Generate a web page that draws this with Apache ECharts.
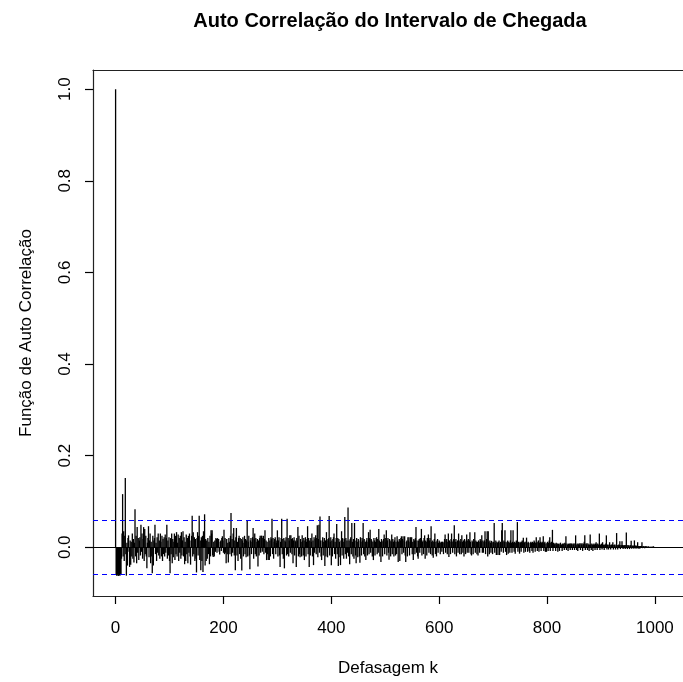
<!DOCTYPE html>
<html>
<head>
<meta charset="utf-8">
<script src="https://cdn.jsdelivr.net/npm/echarts@6/dist/echarts.min.js"></script>
<style>
  html, body { margin: 0; padding: 0; background: #fff; }
  #chart { width: 683px; height: 682px; }
</style>
</head>
<body>
<div id="chart"></div>
<script>
// Sample autocorrelation of the inter-arrival times, lags 0..999, in thousandths
const acfThousandths = [
  1000,
  -60, -62, -58, -61, -63, -59, -61, -62, -58, -60,
  -25, 30, 116, -20, 35, -30, 25, 151, -15, -62,
  10, -40, 20, 26, -10, -43, 15, -38, 12, -20,
  30, -25, 18, -33, 10, 83, -20, 25, -35, 44,
  -12, 20, -28, 15, 22, -18, 49, -10, 30, -25,
  18, 44, -30, 40, -15, 25, -20, -46, 10, 20,
  46, -22, 15, 30, -35, 12, -20, -57, 25, -40,
  15, 20, 49, -15, 10, -30, 22, -12, 30, -18,
  15, -25, 30, 12, -20, 25, -30, 18, -15, 22,
  -20, 28, -12, 20, 49, -25, 15, -18, 22, -30,
  -57, 20, -15, 30, -35, 18, -22, 12, 30, -28,
  25, -15, 33, -20, 10, 28, -30, 20, -12, 25,
  -25, 33, -18, 15, 35, -20, 22, -37, 12, -30,
  28, -15, 20, -35, 25, -12, 30, -20, -38, 15,
  25, 69, -20, 33, -15, 22, -30, 18, -25, -55,
  20, 33, -18, 25, 69, -28, 15, -50, 22, -30,
  25, -54, 35, 20, 72, -40, 18, -30, 15, -25,
  20, -15, 12, -37, 25, -20, 37, 30, 37, -18,
  -21, 12, -20, 15, -10, 20, 18, -12, 20, 15,
  18, -10, -16, 12, 15, -8, 20, 24, 15, -12,
  38, -15, 20, -12, -35, 18, -15, 10, -33, 20,
  12, -15, 25, 75, -20, 18, -12, 30, 42, -18,
  15, -50, 22, 42, -18, 12, -30, 20, 25, -15,
  20, -25, 18, -51, 15, 22, -20, 10, 25, -15,
  18, -22, 15, 59, -20, 12, 25, -18, -48, 15,
  20, -15, 12, 22, 42, -25, 18, 30, -15, 20,
  -20, 12, 18, -42, 15, -18, 20, 25, -12, 25,
  25, -10, 20, 25, -15, 18, 37, -12, 15, -28,
  12, -15, -28, 20, -28, 15, -20, 22, 18, 62,
  -15, 20, -25, 12, 18, 22, -15, 10, 15, 37,
  -20, 15, 22, -18, -43, 12, 20, 62, -15, 18,
  -25, 20, -46, 15, 12, 22, -18, 62, -15, 20,
  -20, 15, 26, -12, 26, 18, -15, 20, -35, 15,
  22, -18, 15, 12, -43, 20, 15, 44, -20, 25,
  -15, -22, 18, 12, -20, 26, 15, -18, 20, -28,
  15, 22, -20, 12, 18, 46, -15, 20, -43, 15,
  -18, 20, 12, 30, -20, 15, -39, 22, -12, 18,
  26, -15, 20, 48, -22, 18, 49, -12, 67, 15,
  -20, -28, 15, 22, -18, 12, 20, -41, 15, -20,
  33, 18, -22, 15, 20, 68, -18, 12, 22, -39,
  15, -20, 18, 22, 30, -15, 12, -25, 20, 51,
  -15, 20, -41, 18, 12, -22, -39, 15, 35, -18,
  20, 12, -25, 18, 66, -15, 20, -25, 15, -12,
  87, -20, 15, -37, 18, 22, -15, 53, 12, -20,
  18, -25, 53, 15, -18, -35, 20, 12, -22, 18,
  15, -20, -34, 22, 12, -18, 20, 15, 53, -15,
  18, -20, 12, -28, 15, 20, -18, 12, 33, -15,
  20, 38, -12, 18, 15, -20, 12, -28, 20, 15,
  -18, 12, 20, 22, -15, 18, -12, 40, 15, -20,
  12, -32, 18, 15, -20, 12, 18, 28, -15, 20,
  12, 37, -18, 15, 20, -12, -27, 18, 15, -20,
  12, 28, -15, 18, 12, -20, 15, 22, -18, 12,
  -15, 24, 15, -32, 12, 18, -30, 15, 20, 24,
  -15, 18, 24, -12, 15, 24, -18, -32, 12, 15,
  -20, 22, 15, 22, -18, 12, 22, 15, 22, -15,
  12, -28, 18, 15, -15, 20, 44, -12, 15, -20,
  -25, 15, 18, -12, 20, 15, 40, -18, 12, 15,
  -15, 20, 26, -25, 15, 12, -18, 20, 15, 28,
  -12, 15, 20, -15, 46, 12, -18, 15, -23, 12,
  18, 30, -15, 12, -20, 15, 18, -12, 10, 15,
  12, -15, 10, 12, -10, 12, 12, -15, 10, 18,
  28, -12, 15, 18, -15, 12, 30, -21, 15, 12,
  -15, 18, 30, 12, -12, 15, 18, 48, -15, 12,
  18, -20, 12, 15, -12, 30, 15, -15, 12, 18,
  -15, 26, 12, -12, 15, -20, 18, 12, -15, 15,
  28, -12, 15, 18, -12, 15, 33, 12, -15, -18,
  15, 12, -15, 18, 12, 33, -12, 15, 12, -15,
  12, -18, 15, 12, -12, 18, 15, 12, 26, -12,
  15, -12, 12, 15, 35, -15, 12, 18, 35, -20,
  35, 12, -15, 15, 10, -12, 14, 12, -15, 10,
  12, 53, -12, 10, 15, -17, 12, 10, -17, 12,
  15, -17, 10, 12, -10, 37, 53, 12, -12, 15,
  12, 37, -10, 12, -17, 10, 15, -14, 12, 10,
  -12, 15, 37, 10, -12, 12, 37, 10, -10, 12,
  -14, 10, 15, 12, 55, -10, 12, 10, -14, 12,
  10, -10, 12, 15, 10, 21, -12, 10, 12, -10,
  12, 21, 10, -10, 12, 10, -8, -12, 10, 12,
  10, -8, 12, -12, 10, 15, 12, -10, 10, 22,
  10, -8, 12, 15, -10, 10, 22, 12, -8, 10,
  12, 10, 24, -8, 10, 12, -10, 8, -10, 10,
  12, -8, 10, 15, 22, -8, 10, 12, 8, 38,
  -8, 10, 8, 6, 8, -8, 10, 6, 8, -10,
  8, 6, -8, 8, 10, 6, 6, -8, 8, 6,
  8, -6, 10, 8, 24, -6, 8, 6, -8, 8,
  6, 8, -6, 8, 8, 6, -6, 8, 6, 8,
  -6, 8, 26, 6, -6, 8, -8, 6, 8, 6,
  9, -6, 8, 6, 9, -8, 6, 8, 12, 26,
  -6, 8, 6, 9, -6, 8, 6, -8, 6, 28,
  6, -6, 8, 6, -8, 6, 8, 6, -6, 8,
  11, 6, -6, 8, 6, 5, 30, -6, 6, 5,
  8, -5, 11, 6, 5, -6, 6, 5, 8, 26,
  -5, 6, 5, -5, 6, 11, 5, -5, 6, 5,
  6, 11, -5, 5, 6, 4, -5, 6, 31, 5,
  -5, 4, 6, 5, 13, -4, 5, 4, 13, 5,
  -4, 4, 5, 4, -4, 5, 32, 4, -4, 5,
  4, 3, -4, 5, 4, 14, -3, 4, 3, 4,
  -3, 15, 3, 4, -3, 3, 4, 11, -3, 3,
  3, -3, 3, 2, 3, 11, -2, 3, 2, 2,
  -2, 2, 2, 1, 2, -1, 1, 2, 1, -1,
  1, 1, -1, 1, 1, 0, 2, 1, 0
];

// 95% significance bound drawn as dashed lines
const ciBound = 0.062;

const xTicks = [0, 200, 400, 600, 800, 1000];
const yTicks = [0, 0.2, 0.4, 0.6, 0.8, 1.0];

const chartTitle = 'Auto Correlação do Intervalo de Chegada';
const xLabel = 'Defasagem k';
const yLabel = 'Função de Auto Correlação';

const acfPoints = acfThousandths.map((v, lag) => [lag, v / 1000]);

const FONT = '"Liberation Sans", Arial, Helvetica, sans-serif';
const frameLine = { color: '#222', width: 1.2 };

const chart = echarts.init(document.getElementById('chart'), null, { renderer: 'canvas' });

chart.setOption({
  animation: false,
  backgroundColor: '#ffffff',
  textStyle: { fontFamily: FONT },
  graphic: [{
    type: 'text',
    x: 390,
    y: 21,
    style: {
      text: chartTitle,
      fill: '#000',
      font: 'bold 20px ' + FONT,
      align: 'center',
      verticalAlign: 'middle'
    }
  }],
  grid: {
    left: 93,
    top: 70,
    width: 590,
    height: 529,
    show: false
  },
  xAxis: [{
    type: 'value',
    position: 'bottom',
    min: -41.9,
    max: 1052.1,
    axisLine: { show: true, onZero: false, lineStyle: frameLine },
    splitLine: { show: false },
    axisTick: {
      show: true,
      customValues: xTicks,
      length: 8,
      lineStyle: { color: '#000', width: 1.2 }
    },
    axisLabel: {
      customValues: xTicks,
      formatter: v => String(v),
      margin: 24,
      fontSize: 17,
      color: '#000',
      fontFamily: FONT
    },
    name: xLabel,
    nameLocation: 'middle',
    nameGap: 64,
    nameTextStyle: { fontSize: 17, color: '#000', fontFamily: FONT }
  }, {
    // top edge of the frame
    type: 'value',
    position: 'top',
    min: -41.9,
    max: 1052.1,
    axisLine: { show: true, onZero: false, lineStyle: frameLine },
    axisTick: { show: false },
    axisLabel: { show: false },
    splitLine: { show: false }
  }],
  yAxis: {
    type: 'value',
    position: 'left',
    min: -0.1064,
    max: 1.0419,
    axisLine: { show: true, onZero: false, lineStyle: frameLine },
    splitLine: { show: false },
    axisTick: {
      show: true,
      customValues: yTicks,
      length: 8,
      lineStyle: { color: '#000', width: 1.2 }
    },
    axisLabel: {
      customValues: yTicks,
      formatter: v => v.toFixed(1),
      rotate: 90,
      margin: 19,
      fontSize: 17,
      color: '#000',
      fontFamily: FONT
    },
    name: yLabel,
    nameLocation: 'middle',
    nameRotate: 90,
    nameGap: 58,
    nameTextStyle: { fontSize: 17, color: '#000', fontFamily: FONT }
  },
  series: [{
    type: 'custom',
    silent: true,
    xAxisIndex: 0,
    data: acfPoints,
    encode: { x: 0, y: 1 },
    renderItem: function (params, api) {
      const base = api.coord([api.value(0), 0]);
      const tip = api.coord([api.value(0), api.value(1)]);
      return {
        type: 'line',
        shape: { x1: base[0], y1: base[1], x2: tip[0], y2: tip[1] },
        style: { stroke: '#000', lineWidth: 1.3 }
      };
    },
    markLine: {
      silent: true,
      symbol: 'none',
      label: { show: false },
      data: [
        { yAxis: 0, lineStyle: { color: '#000', type: 'solid', width: 1.2 } },
        { yAxis: ciBound, lineStyle: { color: '#0000ff', type: [5, 4], width: 1.2 } },
        { yAxis: -ciBound, lineStyle: { color: '#0000ff', type: [5, 4], width: 1.2 } }
      ]
    }
  }]
});
</script>
</body>
</html>
